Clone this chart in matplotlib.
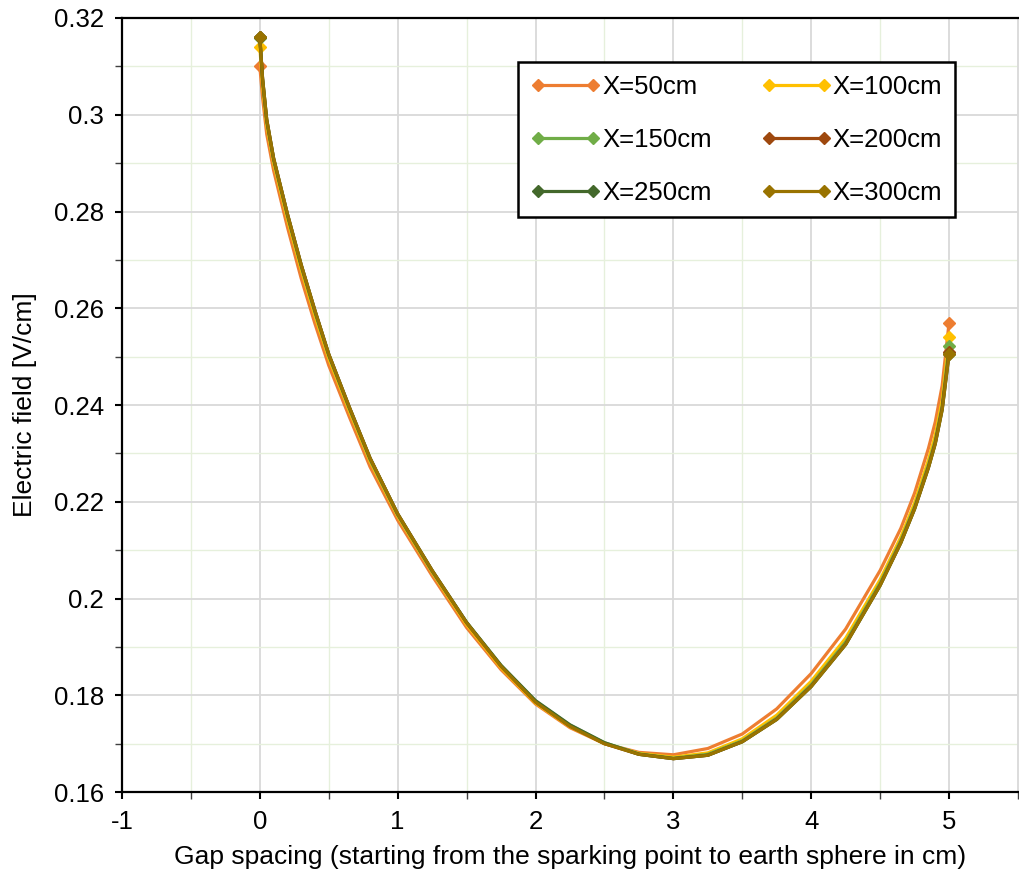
import numpy as np
import matplotlib.pyplot as plt
from matplotlib.ticker import MultipleLocator

plt.rcParams['font.family'] = ['Liberation Sans', 'DejaVu Sans']
plt.rcParams['axes.unicode_minus'] = False

# gap positions (cm)
gap = [0, 0.02, 0.05, 0.1, 0.2, 0.3, 0.4, 0.5, 0.65, 0.8, 1.0, 1.25, 1.5, 1.75,
       2.0, 2.25, 2.5, 2.75, 3.0, 3.25, 3.5, 3.75, 4.0, 4.25, 4.5, 4.65, 4.75,
       4.85, 4.9, 4.95, 5.0]

# electric field values
e_50 = [0.310, 0.3035, 0.2960, 0.2885, 0.2768, 0.2662, 0.2568, 0.2482, 0.2375,
        0.2272, 0.2162, 0.2047, 0.1940, 0.1853, 0.1782, 0.1733, 0.1700, 0.1682,
        0.1677, 0.1690, 0.1720, 0.1772, 0.1845, 0.1937, 0.2058, 0.2145, 0.2218,
        0.2310, 0.2365, 0.2440, 0.257]
e_100 = [0.314, 0.3059, 0.2978, 0.2900, 0.2784, 0.2679, 0.2584, 0.2496, 0.2387,
         0.2283, 0.2170, 0.2054, 0.1946, 0.1857, 0.1784, 0.1735, 0.1700, 0.1680,
         0.1672, 0.1681, 0.1710, 0.1759, 0.1829, 0.1918, 0.2039, 0.2127, 0.2198,
         0.2286, 0.2338, 0.2410, 0.254]
e_150 = [0.3158, 0.3069, 0.2985, 0.2906, 0.2791, 0.2686, 0.2591, 0.2502, 0.2392,
         0.2287, 0.2173, 0.2056, 0.1950, 0.1861, 0.1788, 0.1738, 0.1702, 0.1679,
         0.1670, 0.1678, 0.1706, 0.1753, 0.1822, 0.1910, 0.2032, 0.2120, 0.2190,
         0.2276, 0.2327, 0.2398, 0.2522]
e_200 = [0.316, 0.3074, 0.2990, 0.2910, 0.2795, 0.2690, 0.2595, 0.2505, 0.2395,
         0.2290, 0.2175, 0.2058, 0.1950, 0.1860, 0.1786, 0.1736, 0.1700, 0.1678,
         0.1669, 0.1676, 0.1704, 0.1751, 0.1819, 0.1906, 0.2028, 0.2116, 0.2186,
         0.2271, 0.2322, 0.2393, 0.251]
e_250 = [0.316, 0.3075, 0.2990, 0.2910, 0.2795, 0.2690, 0.2595, 0.2505, 0.2395,
         0.2290, 0.2175, 0.2058, 0.1951, 0.1862, 0.1789, 0.1739, 0.1702, 0.1678,
         0.1669, 0.1676, 0.1704, 0.1750, 0.1818, 0.1905, 0.2027, 0.2115, 0.2185,
         0.2270, 0.2320, 0.2390, 0.2505]
e_300 = [0.316, 0.3075, 0.2990, 0.2910, 0.2795, 0.2690, 0.2595, 0.2505, 0.2395,
         0.2290, 0.2175, 0.2058, 0.1950, 0.1860, 0.1786, 0.1736, 0.1700, 0.1678,
         0.1669, 0.1676, 0.1704, 0.1750, 0.1818, 0.1905, 0.2027, 0.2115, 0.2185,
         0.2270, 0.2320, 0.2390, 0.2505]

labels = ["X=50cm", "X=100cm", "X=150cm", "X=200cm", "X=250cm", "X=300cm"]
colors = ["#ED7D31", "#FFC000", "#70AD47", "#9E480E", "#43682B", "#997300"]
series = [e_50, e_100, e_150, e_200, e_250, e_300]

fig = plt.figure(figsize=(10.19, 8.82), dpi=100)
ax = fig.add_axes([0.1197, 0.102, 0.8793, 0.8776])

lines = []
for y, c, lab in zip(series, colors, labels):
    ln, = ax.plot(gap, y, color=c, linewidth=2.3, marker="D", markersize=6,
                  markevery=[0, len(gap) - 1], label=lab,
                  solid_joinstyle="round", solid_capstyle="round")
    lines.append(ln)

ax.set_xlim(-1, 5.5)
ax.set_ylim(0.16, 0.32)
ax.xaxis.set_major_locator(MultipleLocator(1))
ax.xaxis.set_minor_locator(MultipleLocator(0.5))
ax.yaxis.set_minor_locator(MultipleLocator(0.01))
ax.set_yticks([0.16, 0.18, 0.2, 0.22, 0.24, 0.26, 0.28, 0.3, 0.32])
ax.set_yticklabels(["0.16", "0.18", "0.2", "0.22", "0.24", "0.26", "0.28", "0.3", "0.32"])

ax.grid(which="major", color="#D9D9D9", linewidth=1.3)
ax.grid(which="minor", color="#E6F0DC", linewidth=1.0)
ax.set_axisbelow(True)

ax.tick_params(which="major", direction="out", length=5, width=1.5, labelsize=18.5, pad=8)
ax.tick_params(which="minor", direction="out", length=5, width=1.0, color="#404040")

for s in ["left", "bottom", "top"]:
    ax.spines[s].set_color("black")
    ax.spines[s].set_linewidth(1.6)
ax.spines["right"].set_color("#D9D9D9")
ax.spines["right"].set_linewidth(1.3)

ax.set_xlabel("Gap spacing (starting from the sparking point to earth sphere in cm)",
              fontsize=19, labelpad=8)
ax.set_ylabel("Electric field [V/cm]", fontsize=19, labelpad=12)

# legend filled row by row like the original
order = [0, 2, 4, 1, 3, 5]
leg = ax.legend([lines[i] for i in order], [labels[i] for i in order],
                loc="upper right", bbox_to_anchor=(0.93, 0.943), borderaxespad=0,
                ncol=2, fontsize=18.5, numpoints=2, handlelength=2.75,
                handletextpad=0.05, columnspacing=1.9, labelspacing=1.12,
                fancybox=False, framealpha=1, edgecolor="black", borderpad=0.5)
leg.get_frame().set_linewidth(1.8)

fig.savefig("out.png", dpi=100)
